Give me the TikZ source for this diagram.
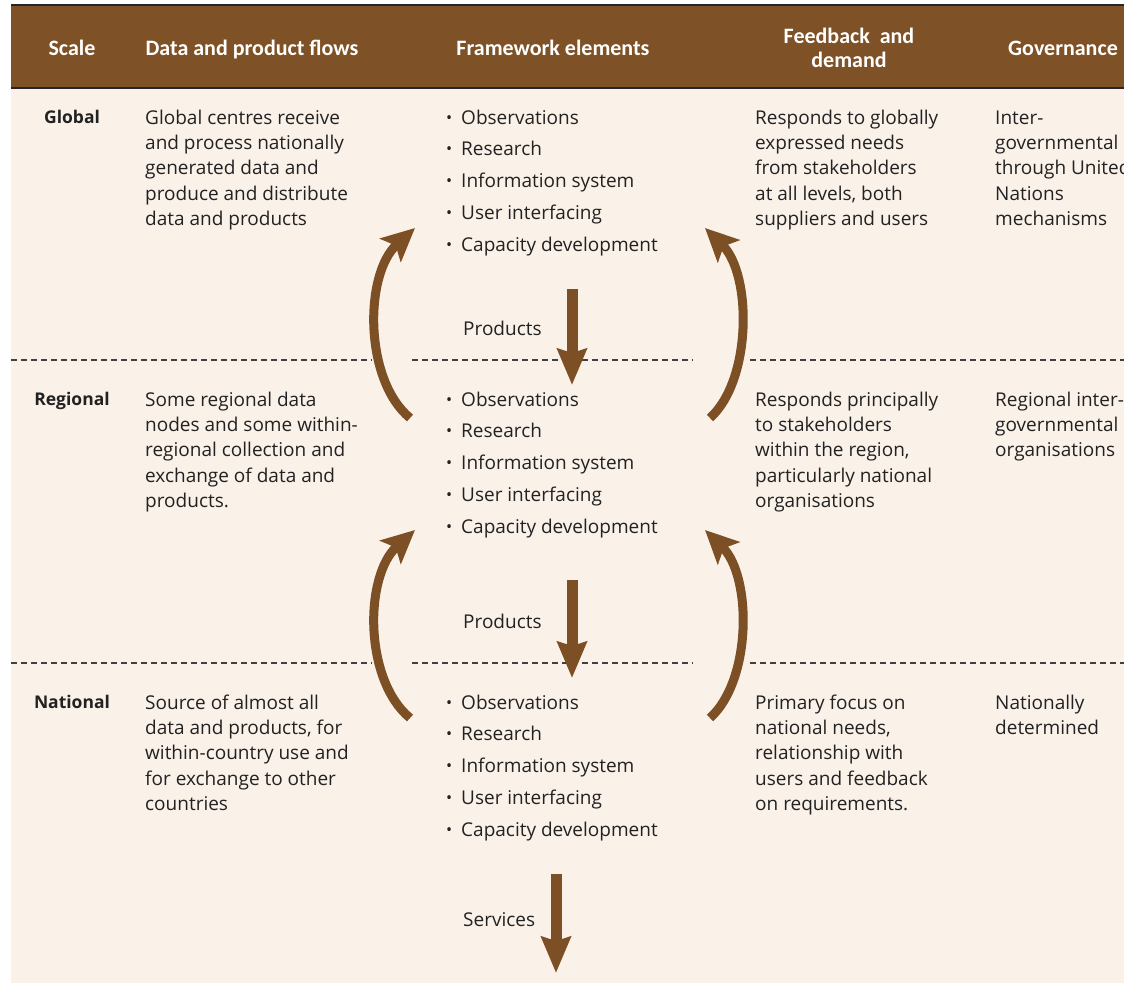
\documentclass[tikz,border=0pt]{standalone}
\usepackage{fontspec}
\setmainfont{Open Sans}
\newfontfamily\hdfont{Carlito}
\usetikzlibrary{arrows.meta}
\definecolor{hdbrown}{HTML}{7E5126}
\definecolor{arrbrown}{HTML}{7C4F24}
\definecolor{bgbeige}{HTML}{FAF1E9}
\definecolor{txt}{HTML}{222222}
\newcommand{\bul}{\makebox[15pt][l]{\raisebox{0.1ex}{\scalebox{0.85}{•}}}}
\begin{document}
\begin{tikzpicture}[x=1pt,y=-1pt,
 hd/.style={text=white, font=\hdfont\bfseries\fontsize{22}{26}\selectfont, inner sep=0, anchor=base},
 body/.style={text=txt, font=\fontsize{19}{25.3}\selectfont, inner sep=0, anchor=north west, align=left},
 blist/.style={text=txt, font=\fontsize{19}{31.75}\selectfont, inner sep=0, anchor=north west, align=left},
 lbl/.style={text=txt, font=\fontsize{19}{24}\selectfont, inner sep=0, anchor=base west},
 scalelbl/.style={text=txt, font=\bfseries\fontsize{17.5}{24}\selectfont, inner sep=0, anchor=base},
 sep/.style={dash pattern=on 6pt off 4pt, line width=1.3pt, draw=black!75},
 curvarrow/.style={line width=9pt, draw=arrbrown, -{Stealth[length=33pt,width=31pt,inset=7pt]}},
 flowarrow/.style={line width=11pt, draw=arrbrown, -{Stealth[length=36pt,width=29pt,inset=4pt]}},
]
\clip (0,0) rectangle (1124,983);
\fill[white] (0,0) rectangle (1124,983);
\fill[bgbeige] (11,5) rectangle (1124,983);
% header
\fill[hdbrown] (11,5) rectangle (1124,88);
\draw[line width=1.6pt, black!85] (11,5) -- (1124,5);
\draw[line width=1.6pt, black!85] (11,88) -- (1124,88);
\node[hd] (hscale) at (72,55) {Scale};
\node[hd] (hflow) at (252,55) {Data and product flows};
\node[hd] (hfw) at (553,55) {Framework elements};
\node[hd] (hfb1) at (849,43) {Feedback\ \ and};
\node[hd] (hfb2) at (849,67) {demand};
\node[hd] (hgov) at (1063,55) {Governance};
% separators
\foreach \yy in {360,663}{
  \draw[sep] (11,\yy) -- (372,\yy);
  \draw[sep] (412,\yy) -- (693,\yy);
  \draw[sep] (750,\yy) -- (1124,\yy);
}
% scale labels
\node[scalelbl] (sglobal) at (72,123) {Global};
\node[scalelbl] (sregional) at (72,405) {Regional};
\node[scalelbl] (snational) at (72,708) {National};
% data and product flows
\node[body] (fglobal) at (145,106.3) {\strut Global centres receive\\and process nationally\\generated data and\\produce and distribute\\data and products};
\node[body] (fregional) at (145,388.3) {\strut Some regional data\\nodes and some within-\\regional collection and\\exchange of data and\\products.};
\node[body] (fnational) at (145,691.3) {\strut Source of almost all\\data and products, for\\within-country use and\\for exchange to other\\countries};
% framework elements
\node[blist] (eglobal) at (446,101.8) {\strut\bul Observations\\\bul Research\\\bul Information system\\\bul User interfacing\\\bul Capacity development};
\node[blist] (eregional) at (446,383.8) {\strut\bul Observations\\\bul Research\\\bul Information system\\\bul User interfacing\\\bul Capacity development};
\node[blist] (enational) at (446,686.8) {\strut\bul Observations\\\bul Research\\\bul Information system\\\bul User interfacing\\\bul Capacity development};
% feedback
\node[body] (bglobal) at (755,106.3) {\strut Responds to globally\\expressed needs\\from stakeholders\\at all levels, both\\suppliers and users};
\node[body] (bregional) at (755,388.3) {\strut Responds principally\\to stakeholders\\within the region,\\particularly national\\organisations};
\node[body] (bnational) at (755,691.3) {\strut Primary focus on\\national needs,\\relationship with\\users and feedback\\on requirements.};
% governance
\node[body] (gglobal) at (995,106.3) {\strut Inter-\\governmental\\through United\\Nations\\mechanisms};
\node[body] (gregional) at (995,388.3) {\strut Regional inter-\\governmental\\organisations};
\node[body] (gnational) at (995,691.3) {\strut Nationally\\determined};
% flow labels
\node[lbl] (prod1) at (463,335) {Products};
\node[lbl] (prod2) at (463,628) {Products};
\node[lbl] (serv) at (463,926) {Services};
% arrow end points
\coordinate (p1s) at (572,289); \coordinate (p1e) at (572,385);
\coordinate (p2s) at (572,580); \coordinate (p2e) at (572,678);
\coordinate (ss) at (556,874); \coordinate (se) at (556,973);
\coordinate (la1s) at (410,418); \coordinate (la1e) at (415,228);
\coordinate (ra1s) at (710,418); \coordinate (ra1e) at (705,228);
\coordinate (la2s) at (410,718); \coordinate (la2e) at (415,530);
\coordinate (ra2s) at (710,718); \coordinate (ra2e) at (705,530);
% straight arrows
\draw[flowarrow] (p1s) -- (p1e);
\draw[flowarrow] (p2s) -- (p2e);
\draw[flowarrow] (ss) -- (se);
% curved arrows
\draw[curvarrow] (la1s) .. controls (364,380) and (364,274) .. (la1e);
\draw[curvarrow] (ra1s) .. controls (752,380) and (752,274) .. (ra1e);
\draw[curvarrow] (la2s) .. controls (364,680) and (364,576) .. (la2e);
\draw[curvarrow] (ra2s) .. controls (752,680) and (752,576) .. (ra2e);
\end{tikzpicture}
\end{document}
